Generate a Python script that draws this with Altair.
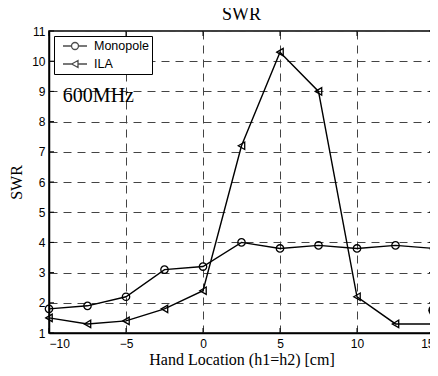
import altair as alt
import pandas as pd

x_cm = [-10, -7.5, -5, -2.5, 0, 2.5, 5, 7.5, 10, 12.5, 15]
monopole = [1.8, 1.9, 2.2, 3.1, 3.2, 4.0, 3.8, 3.9, 3.8, 3.9, 3.8]
ila = [1.5, 1.3, 1.4, 1.8, 2.4, 7.2, 10.3, 9.0, 2.2, 1.3, 1.3]
series_names = ["Monopole", "ILA"]
x_ticks = [-10, -5, 0, 5, 10, 15]
y_ticks = [1, 2, 3, 4, 5, 6, 7, 8, 9, 10, 11]
blob_x = [15]
blob_y = [1.75]

rows = []
for xv, m, i in zip(x_cm, monopole, ila):
    rows.append({"x": xv, "y": m, "s": "Monopole"})
    rows.append({"x": xv, "y": i, "s": "ILA"})
df = pd.DataFrame(rows)
blob = pd.DataFrame({"x": blob_x, "y": blob_y})
note = pd.DataFrame({"x": [-9.1], "y": [8.85], "t": ["600MHz"]})
xt = pd.DataFrame({"x": x_ticks})
yt = pd.DataFrame({"y": y_ticks})

xs = alt.Scale(domain=[-10, 15], nice=False, zero=False)
ys = alt.Scale(domain=[1, 11], nice=False, zero=False)

X = alt.X("x:Q", scale=xs, title="Hand Location (h1=h2) [cm]",
          axis=alt.Axis(values=x_ticks))
Y = alt.Y("y:Q", scale=ys, title="SWR",
          axis=alt.Axis(values=y_ticks))

W, H, TL = 385, 302, 5

lines = alt.Chart(df).mark_line(color="black", strokeWidth=1.4).encode(
    x=X, y=Y, detail="s:N")

shape_plot = alt.Scale(domain=series_names, range=["circle", "triangle-left"])
points = alt.Chart(df).mark_point(
    filled=False, color="black", size=55, strokeWidth=1.3, opacity=1
).encode(x=X, y=Y, shape=alt.Shape("s:N", scale=shape_plot, legend=None))

leg_paths = [
    "M-2,0L-0.58,0M0.58,0L2,0M0.58,0A0.58,0.58 0 1,1 -0.58,0A0.58,0.58 0 1,1 0.58,0",
    "M-2,0L-0.55,0M0.5,0L2,0M-0.55,0L0.5,-0.58L0.5,0.58Z",
]
legend_driver = alt.Chart(df).transform_filter("datum.x > 1000").mark_point(
    filled=False, color="black"
).encode(
    x=X, y=Y,
    shape=alt.Shape("s:N", scale=alt.Scale(domain=series_names, range=leg_paths),
                    legend=alt.Legend(title=None, orient="none",
                                      legendX=5, legendY=5,
                                      symbolSize=144, symbolStrokeWidth=1.3,
                                      symbolStrokeColor="black", symbolFillColor="transparent",
                                      labelFont="Liberation Sans", labelFontSize=12.5,
                                      labelColor="black", rowPadding=4,
                                      strokeColor="black", fillColor="white",
                                      padding=3, symbolOffset=11,
                                      labelOffset=12)),
)

tick_b = alt.Chart(xt).mark_rule(color="black", strokeWidth=1).encode(
    x=X, y=alt.value(H), y2=alt.value(H - TL))
tick_t = alt.Chart(xt).mark_rule(color="black", strokeWidth=1).encode(
    x=X, y=alt.value(0), y2=alt.value(TL))
tick_l = alt.Chart(yt).mark_rule(color="black", strokeWidth=1).encode(
    y=Y, x=alt.value(0), x2=alt.value(TL))
tick_r = alt.Chart(yt).mark_rule(color="black", strokeWidth=1).encode(
    y=Y, x=alt.value(W), x2=alt.value(W - TL))

blob_mark = alt.Chart(blob).mark_point(filled=True, color="black", size=130, opacity=1,
                                       clip=False).encode(x=X, y=Y)

text = alt.Chart(note).mark_text(align="left", baseline="middle", font="Liberation Serif",
                                 fontSize=20, color="black").encode(x=X, y=Y, text="t:N")

chart = alt.layer(lines, tick_b, tick_t, tick_l, tick_r, points, legend_driver,
                  blob_mark, text).resolve_scale(
    shape="independent"
).properties(
    width=W, height=H,
    title=alt.TitleParams("SWR", font="Liberation Serif", fontSize=18, fontWeight="normal",
                          color="black", offset=1),
    autosize=alt.AutoSizeParams(type="none"),
    padding={"left": 41, "top": 23, "right": -4, "bottom": 35},
).configure_view(stroke="black", strokeWidth=1.5).configure_axis(
    grid=True, gridColor="#444", gridDash=[8, 6], gridWidth=1, gridOpacity=1,
    domainColor="black", domainWidth=1.5, ticks=False,
    labelFont="Liberation Sans", labelFontSize=12, labelColor="black",
    titleFont="Liberation Serif", titleFontSize=16, titleFontWeight="normal", titleColor="black",
).configure_axisX(titlePadding=2, labelPadding=5).configure_axisY(titlePadding=7, labelPadding=4)

chart.save("out.html", embed_options={"renderer": "svg", "actions": False})
